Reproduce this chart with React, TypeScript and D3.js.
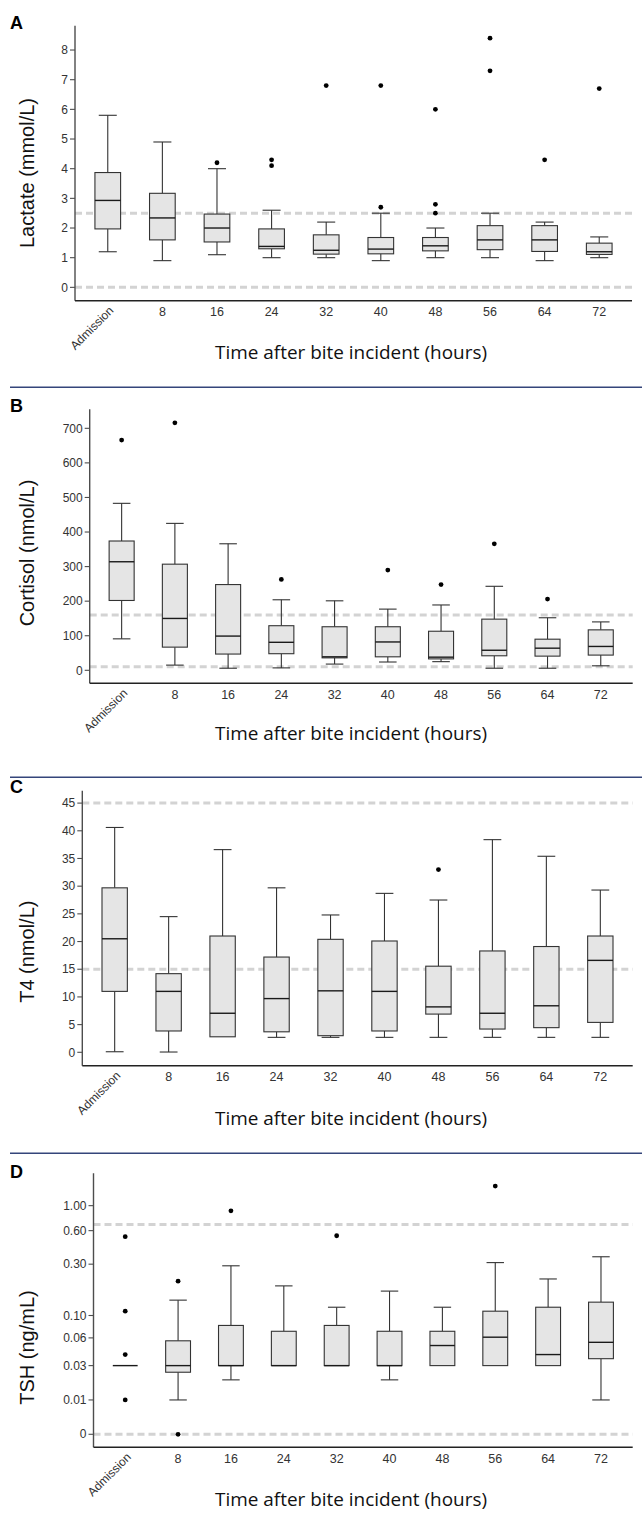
import React, { useEffect, useRef } from 'react';
import * as d3 from 'd3';

const categories = ['Admission', '8', '16', '24', '32', '40', '48', '56', '64', '72'];

// A: lactate (mmol/L)
const lactateLow = [1.2, 0.9, 1.1, 1.0, 1.0, 0.9, 1.0, 1.0, 0.9, 1.0];
const lactateQ1 = [1.97, 1.6, 1.53, 1.3, 1.12, 1.13, 1.23, 1.27, 1.21, 1.11];
const lactateMedian = [2.93, 2.34, 2.0, 1.38, 1.25, 1.29, 1.4, 1.6, 1.6, 1.2];
const lactateQ3 = [3.87, 3.17, 2.47, 1.97, 1.77, 1.68, 1.68, 2.08, 2.08, 1.49];
const lactateHigh = [5.8, 4.9, 4.0, 2.6, 2.2, 2.5, 2.0, 2.5, 2.2, 1.7];
const lactateOutliers = [[], [], [4.2], [4.3, 4.1], [6.8], [6.8, 2.7], [6.0, 2.8, 2.5], [8.4, 7.3], [4.3], [6.7]];
const lactateRefs = [2.5, 0];
const lactateTicks = [0, 1, 2, 3, 4, 5, 6, 7, 8];

// B: cortisol (nmol/L)
const cortisolLow = [91, 15, 6, 7, 18, 24, 25, 6, 6, 13];
const cortisolQ1 = [202, 67, 47, 48, 36, 39, 33, 42, 41, 44];
const cortisolMedian = [314, 150, 99, 81, 39, 82, 38, 58, 64, 69];
const cortisolQ3 = [374, 307, 248, 129, 126, 126, 113, 148, 90, 117];
const cortisolHigh = [483, 425, 366, 204, 201, 177, 189, 243, 152, 140];
const cortisolOutliers = [[666], [716], [], [263], [], [290], [248], [366], [206], []];
const cortisolRefs = [160, 10];
const cortisolTicks = [0, 100, 200, 300, 400, 500, 600, 700];

// C: T4 (nmol/L)
const t4Low = [0.1, 0.05, 2.8, 2.7, 2.7, 2.7, 2.7, 2.7, 2.7, 2.7];
const t4Q1 = [11.0, 3.85, 2.8, 3.7, 3.0, 3.85, 6.9, 4.2, 4.45, 5.4];
const t4Median = [20.5, 11.0, 7.05, 9.7, 11.1, 11.0, 8.2, 7.05, 8.4, 16.6];
const t4Q3 = [29.7, 14.2, 21.0, 17.2, 20.4, 20.1, 15.55, 18.3, 19.1, 21.0];
const t4High = [40.6, 24.5, 36.6, 29.7, 24.8, 28.7, 27.5, 38.4, 35.4, 29.3];
const t4Outliers = [[], [], [], [], [], [], [33.0], [], [], []];
const t4Refs = [45, 15];
const t4Ticks = [0, 5, 10, 15, 20, 25, 30, 35, 40, 45];

// D: TSH (ng/mL)
const tshLow = [0.03, 0.01, 0.02, 0.03, 0.03, 0.02, 0.03, 0.03, 0.03, 0.01];
const tshQ1 = [0.03, 0.025, 0.03, 0.03, 0.03, 0.03, 0.03, 0.03, 0.03, 0.036];
const tshMedian = [0.03, 0.03, 0.03, 0.03, 0.03, 0.03, 0.05, 0.061, 0.04, 0.054];
const tshQ3 = [0.03, 0.056, 0.08, 0.07, 0.08, 0.07, 0.07, 0.11, 0.12, 0.134];
const tshHigh = [0.03, 0.14, 0.29, 0.19, 0.12, 0.17, 0.12, 0.31, 0.22, 0.35];
const tshOutliers = [[0.53, 0.11, 0.04, 0.01], [0.21, 0], [0.9], [], [0.54], [], [], [1.49], [], []];
const tshRefs = [0.68, 0];
const tshTicks = [0, 0.01, 0.03, 0.06, 0.1, 0.3, 0.6, 1.0];

const panels = [
  {
    letter: 'A', yTitle: 'Lactate (mmol/L)',
    low: lactateLow, q1: lactateQ1, median: lactateMedian, q3: lactateQ3, high: lactateHigh,
    outliers: lactateOutliers, refs: lactateRefs, ticks: lactateTicks, fmt: d3.format('d'),
    domain: [-0.45, 8.82], log: false,
    left: 75, right: 632, top: 25.7, bottom: 300.7, letterY: 29, yTitleY: 173, xTitleY: 359,
  },
  {
    letter: 'B', yTitle: 'Cortisol (nmol/L)',
    low: cortisolLow, q1: cortisolQ1, median: cortisolMedian, q3: cortisolQ3, high: cortisolHigh,
    outliers: cortisolOutliers, refs: cortisolRefs, ticks: cortisolTicks, fmt: d3.format('d'),
    domain: [-37.6, 755], log: false,
    left: 89.7, right: 632.7, top: 409.3, bottom: 683.3, letterY: 411.7, yTitleY: 553, xTitleY: 740,
  },
  {
    letter: 'C', yTitle: 'T4 (nmol/L)',
    low: t4Low, q1: t4Q1, median: t4Median, q3: t4Q3, high: t4High,
    outliers: t4Outliers, refs: t4Refs, ticks: t4Ticks, fmt: d3.format('d'),
    domain: [-2.42, 47.24], log: false,
    left: 82.3, right: 632.7, top: 790.7, bottom: 1065.7, letterY: 793, yTitleY: 951.7, xTitleY: 1125,
  },
  {
    letter: 'D', yTitle: 'TSH (ng/mL)',
    low: tshLow, q1: tshQ1, median: tshMedian, q3: tshQ3, high: tshHigh,
    outliers: tshOutliers, refs: tshRefs, ticks: tshTicks,
    fmt: (v: number) => (v === 0 ? '0' : d3.format('.2f')(v)),
    domain: [0.00769, 1.941], log: true,
    left: 93.5, right: 632.7, top: 1173.3, bottom: 1447.3, letterY: 1177.7, yTitleY: 1347.5, xTitleY: 1506,
  },
];

const separators = [387.3, 777.3, 1153.3];

const tickFont = '"Liberation Sans", Arial, sans-serif';
const axisColor = '#4d4d4d';

const BoxPanel = ({ p }: { p: any }) => {
  const gRef = useRef<SVGGElement>(null);

  useEffect(() => {
    const g = d3.select(gRef.current);
    g.selectAll('*').remove();

    const x = d3.scalePoint<string>()
      .domain(categories)
      .range([p.left, p.right])
      .padding(0.6);
    const step = x.step();
    const boxW = step * 0.47;
    const capW = step * 0.33;

    // log panel is log10(v + 0.01), so zero can sit on the axis
    const base = p.log
      ? d3.scaleLog().domain(p.domain).range([p.bottom, p.top])
      : d3.scaleLinear().domain(p.domain).range([p.bottom, p.top]);
    const y = (v: number) => (p.log ? base(v + 0.01) : base(v));

    // reference lines
    g.selectAll('line.ref')
      .data(p.refs)
      .join('line')
      .attr('class', 'ref')
      .attr('x1', p.left)
      .attr('x2', p.right)
      .attr('y1', (d: number) => y(d))
      .attr('y2', (d: number) => y(d))
      .attr('stroke', '#d3d3d3')
      .attr('stroke-width', 3)
      .attr('stroke-dasharray', '7,4');

    const rows = categories.map((c, i) => ({
      c, low: p.low[i], q1: p.q1[i], med: p.median[i], q3: p.q3[i], high: p.high[i], out: p.outliers[i],
    }));

    const box = g.selectAll('g.box').data(rows).join('g').attr('class', 'box');

    // whiskers
    box.append('line')
      .attr('x1', d => x(d.c)!).attr('x2', d => x(d.c)!)
      .attr('y1', d => y(d.q3)).attr('y2', d => y(d.high))
      .attr('stroke', '#333').attr('stroke-width', 1.1);
    box.append('line')
      .attr('x1', d => x(d.c)!).attr('x2', d => x(d.c)!)
      .attr('y1', d => y(d.q1)).attr('y2', d => y(d.low))
      .attr('stroke', '#333').attr('stroke-width', 1.1);
    box.filter(d => d.high > d.q3).append('line')
      .attr('x1', d => x(d.c)! - capW / 2).attr('x2', d => x(d.c)! + capW / 2)
      .attr('y1', d => y(d.high)).attr('y2', d => y(d.high))
      .attr('stroke', '#333').attr('stroke-width', 1.1);
    box.filter(d => d.low < d.q1).append('line')
      .attr('x1', d => x(d.c)! - capW / 2).attr('x2', d => x(d.c)! + capW / 2)
      .attr('y1', d => y(d.low)).attr('y2', d => y(d.low))
      .attr('stroke', '#333').attr('stroke-width', 1.1);

    // boxes
    box.append('rect')
      .attr('x', d => x(d.c)! - boxW / 2)
      .attr('width', boxW)
      .attr('y', d => y(d.q3))
      .attr('height', d => Math.max(0, y(d.q1) - y(d.q3)))
      .attr('fill', '#e5e5e5')
      .attr('stroke', '#333')
      .attr('stroke-width', 1.1);
    box.append('line')
      .attr('x1', d => x(d.c)! - boxW / 2).attr('x2', d => x(d.c)! + boxW / 2)
      .attr('y1', d => y(d.med)).attr('y2', d => y(d.med))
      .attr('stroke', '#1a1a1a').attr('stroke-width', 1.4);

    // outliers
    box.selectAll('circle')
      .data(d => d.out.map((v: number) => ({ c: d.c, v })))
      .join('circle')
      .attr('cx', d => x(d.c)!)
      .attr('cy', d => y(d.v))
      .attr('r', 2.4)
      .attr('fill', '#000');

    // y axis
    g.append('line')
      .attr('x1', p.left).attr('x2', p.left)
      .attr('y1', p.top).attr('y2', p.bottom)
      .attr('stroke', axisColor).attr('stroke-width', 1.4);
    const yt = g.selectAll('g.ytick').data(p.ticks).join('g').attr('class', 'ytick')
      .attr('transform', (d: number) => `translate(${p.left},${y(d)})`);
    yt.append('line').attr('x1', -5).attr('x2', 0).attr('stroke', axisColor).attr('stroke-width', 1.1);
    yt.append('text')
      .attr('x', -7)
      .attr('dy', '0.35em')
      .attr('text-anchor', 'end')
      .attr('font-family', tickFont)
      .attr('font-size', 12)
      .attr('fill', '#333')
      .text((d: number) => p.fmt(d));

    // x axis
    g.append('line')
      .attr('x1', p.left).attr('x2', p.right)
      .attr('y1', p.bottom).attr('y2', p.bottom)
      .attr('stroke', '#222').attr('stroke-width', 1.4);
    g.selectAll('text.xtick')
      .data(categories.slice(1))
      .join('text')
      .attr('class', 'xtick')
      .attr('x', d => x(d)!)
      .attr('y', p.bottom + 6.6)
      .attr('dy', '0.71em')
      .attr('text-anchor', 'middle')
      .attr('font-family', tickFont)
      .attr('font-size', 12.5)
      .attr('fill', '#333')
      .text(d => d);
    g.append('text')
      .attr('transform', `translate(${x('Admission')! + 0.5},${p.bottom + 4.5}) rotate(-45)`)
      .attr('dy', '0.71em')
      .attr('text-anchor', 'end')
      .attr('font-family', tickFont)
      .attr('font-size', 12)
      .attr('fill', '#333')
      .text('Admission');

    // titles
    g.append('text')
      .attr('x', 10).attr('y', p.letterY)
      .attr('font-family', tickFont)
      .attr('font-weight', 'bold')
      .attr('font-size', 18)
      .text(p.letter);
    g.append('text')
      .attr('transform', `translate(33.5,${p.yTitleY}) rotate(-90)`)
      .attr('text-anchor', 'middle')
      .attr('font-family', tickFont)
      .attr('font-size', 20)
      .attr('fill', '#111')
      .text(p.yTitle);
    g.append('text')
      .attr('x', 351).attr('y', p.xTitleY)
      .attr('text-anchor', 'middle')
      .attr('font-family', '"Open Sans", sans-serif')
      .attr('font-size', 18)
      .attr('textLength', 272)
      .attr('lengthAdjust', 'spacingAndGlyphs')
      .attr('fill', '#111')
      .text('Time after bite incident (hours)');
  }, [p]);

  return <g ref={gRef} />;
};

export default function App() {
  return (
    <svg width={642} height={1513} style={{ position: 'absolute', left: 0, top: 0, background: '#fff' }}>
      <rect width={642} height={1513} fill="#fff" />
      {separators.map(s => (
        <line key={s} x1={10} x2={642} y1={s} y2={s} stroke="#34457a" strokeWidth={1.5} />
      ))}
      {panels.map(p => <BoxPanel key={p.letter} p={p} />)}
    </svg>
  );
}
